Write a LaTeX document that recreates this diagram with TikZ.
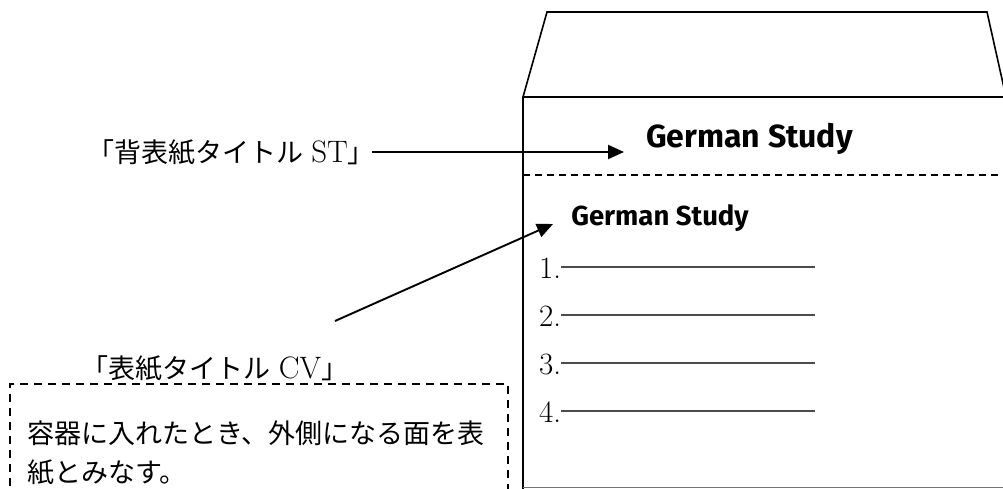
\documentclass[tikz,border=0pt]{standalone}
\usepackage{fontspec}
\newfontfamily\cjk{Noto Sans CJK JP}
\newfontfamily\gs{Fira Sans}
\usetikzlibrary{arrows.meta}
\begin{document}
\begin{tikzpicture}[x=1pt,y=-1pt,
  outline/.style={line width=1.6pt,line join=miter},
  callout/.style={line width=1.9pt,-{Triangle[length=16pt,width=14pt]}},
  lbl/.style={inner sep=0pt,font=\fontsize{27}{30}\selectfont},
  titletxt/.style={inner sep=0pt,anchor=base},
  numtxt/.style={inner sep=0pt,anchor=base west,font=\fontsize{31}{32}\selectfont},
  ruleline/.style={line width=1.6pt,draw=black!70}]
\useasboundingbox (0,0) rectangle (1003,489);
% container
\draw[outline] (523,489) -- (523,97) -- (547,12) -- (987,12) -- (1006,97);
\draw[outline] (523,97) -- (1003,97);
\draw[outline,draw=black!55] (523,487.5) -- (1003,487.5);
\draw[line width=1.3pt,dash pattern=on 7pt off 5pt] (523,175) -- (1003,175);
% titles
\node[titletxt,font=\gs\bfseries\fontsize{32}{36}\selectfont] (spine) at (749.5,148) {German Study};
\node[titletxt,font=\gs\bfseries\fontsize{27.5}{30}\selectfont] (cover) at (660,225) {German Study};
% labels
\node[lbl] (stlabel) at (231,152) {{\cjk 「背表紙タイトル} {\fontsize{31}{32}\selectfont ST}{\cjk 」}};
\node[lbl] (cvlabel) at (215,368) {{\cjk 「表紙タイトル} {\fontsize{31}{32}\selectfont CV}{\cjk 」}};
\coordinate (ststart) at (372,152);
\coordinate (sttip) at (624,152);
\coordinate (cvstart) at (335,321);
\coordinate (cvtip) at (553,224);
\draw[callout] (ststart) -- (sttip);
\draw[callout] (cvstart) -- (cvtip);
% list
\foreach \i/\y in {1/267,2/315,3/363,4/411}{
  \node[numtxt] (n\i) at (539,\y+11) {\i.};
  \coordinate (e\i) at (815,\y);
  \draw[ruleline] (n\i.east |- e\i) -- (e\i);
}
% note box
\draw[line width=1.3pt,dash pattern=on 8pt off 6pt] (10,500) -- (10,384) -- (508,384) -- (508,500);
\node[lbl,anchor=west] (note1) at (27,433) {\cjk 容器に入れたとき、外側になる面を表};
\node[lbl,anchor=west] (note2) at (27,473) {\cjk 紙とみなす。};
\end{tikzpicture}
\end{document}
